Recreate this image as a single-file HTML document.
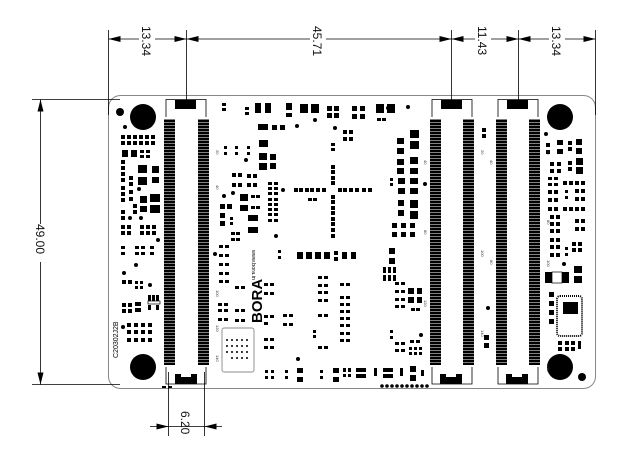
<!DOCTYPE html>
<html><head><meta charset="utf-8"><style>
html,body{margin:0;padding:0;background:#fff;}
svg{display:block;}
text{font-family:"Liberation Sans",sans-serif;}
</style></head><body>
<svg width="640" height="470" viewBox="0 0 640 470" xmlns="http://www.w3.org/2000/svg">
<defs>
<pattern id="pins" width="11" height="3" patternUnits="userSpaceOnUse">
<rect width="11" height="2.5" fill="#000"/>
</pattern>
</defs>

<rect x="108.5" y="95.5" width="487" height="293" rx="12" fill="none" stroke="#888" stroke-width="1"/>

<g stroke="#000" stroke-width="0.8" fill="none">
<line x1="108.5" y1="30" x2="108.5" y2="115"/>
<line x1="186.5" y1="30" x2="186.5" y2="101"/>
<line x1="451.5" y1="30" x2="451.5" y2="101"/>
<line x1="518.5" y1="30" x2="518.5" y2="101"/>
<line x1="595.5" y1="30" x2="595.5" y2="115"/>
<line x1="108.5" y1="39" x2="595.5" y2="39"/>
<line x1="32" y1="99.5" x2="120" y2="99.5"/>
<line x1="32" y1="384.5" x2="120" y2="384.5"/>
<line x1="40.5" y1="99.5" x2="40.5" y2="384.5"/>
<line x1="168.5" y1="372" x2="168.5" y2="436"/>
<line x1="204.5" y1="372" x2="204.5" y2="436"/>
<line x1="150" y1="426.5" x2="222" y2="426.5"/>
</g>
<g fill="#000">
<path d="M108.5,39 l12,-3 v6z"/><path d="M186.5,39 l-12,-3 v6z"/>
<path d="M186.5,39 l12,-3 v6z"/><path d="M451.5,39 l-12,-3 v6z"/>
<path d="M451.5,39 l12,-3 v6z"/><path d="M518.5,39 l-12,-3 v6z"/>
<path d="M518.5,39 l12,-3 v6z"/><path d="M595.5,39 l-12,-3 v6z"/>
<path d="M40.5,99.5 l-3,12 h6z"/><path d="M40.5,384.5 l-3,-12 h6z"/>
<path d="M168.5,426.5 l-12,-3 v6z"/><path d="M204.5,426.5 l12,-3 v6z"/>
</g>
<g fill="#fff"><rect x="139" y="33" width="16" height="24"/><rect x="310" y="33" width="16" height="24"/><rect x="475" y="33" width="16" height="24"/><rect x="549" y="33" width="16" height="24"/><rect x="33" y="224" width="16" height="38"/></g>
<g font-size="12" fill="#111">
<text transform="translate(142,26) rotate(90)">13.34</text>
<text transform="translate(313,26) rotate(90)">45.71</text>
<text transform="translate(478,26) rotate(90)">11.43</text>
<text transform="translate(552,26) rotate(90)">13.34</text>
<text transform="translate(36,224) rotate(90)">49.00</text>
<text transform="translate(181,411) rotate(90)">6.20</text>
</g>

<g fill="url(#pins)">
<rect x="164" y="119" width="11" height="246"/><rect x="198" y="119" width="11" height="246"/>
<rect x="430" y="119" width="11" height="246"/><rect x="463" y="119" width="11" height="246"/>
<rect x="496" y="119" width="11" height="246"/><rect x="529" y="119" width="11" height="246"/>
</g>
<g fill="none" stroke="#000" stroke-width="0.8">
<path d="M166,117 V99.5 H206 V117"/><path d="M432,117 V99.5 H472 V117"/><path d="M498,117 V99.5 H538 V117"/>
<path d="M166,367 V384 H206 V367"/><path d="M432,367 V384 H472 V367"/><path d="M498,367 V384 H538 V367"/>
</g>
<g fill="#000">
<rect x="175" y="100" width="21" height="9"/><rect x="441" y="100" width="21" height="9"/><rect x="507" y="100" width="21" height="9"/>
<path d="M175,374 h6 v3 h10 v-3 h6 v10 h-22z"/><path d="M440,374 h6 v3 h10 v-3 h6 v10 h-22z"/><path d="M506,374 h6 v3 h10 v-3 h6 v10 h-22z"/>
</g>

<g fill="#000">
<circle cx="143" cy="117" r="13"/><circle cx="143" cy="367" r="13"/>
<circle cx="560" cy="117" r="13"/><circle cx="560" cy="367" r="13"/>
<circle cx="120" cy="112" r="4"/><circle cx="582" cy="377" r="4"/>
</g>

<g fill="#000">
<rect x="121" y="135" width="4" height="4"/><rect x="127" y="135" width="4" height="4"/><rect x="133" y="135" width="4" height="4"/><rect x="139" y="135" width="4" height="4"/><rect x="145" y="135" width="4" height="4"/><rect x="151" y="135" width="4" height="4"/>
<rect x="121" y="141" width="4" height="4"/><rect x="127" y="141" width="4" height="4"/><rect x="133" y="141" width="4" height="4"/><rect x="139" y="141" width="4" height="4"/><rect x="145" y="141" width="4" height="4"/><rect x="151" y="141" width="4" height="4"/>
<rect x="122" y="150" width="6" height="7"/><rect x="131" y="150" width="6" height="7"/><rect x="140" y="150" width="4" height="3"/><rect x="146" y="150" width="4" height="3"/><rect x="140" y="155" width="4" height="3"/><rect x="146" y="155" width="4" height="3"/>
<rect x="121" y="160" width="4" height="4"/><rect x="121" y="166" width="4" height="4"/><rect x="121" y="172" width="4" height="4"/><rect x="121" y="178" width="4" height="4"/><rect x="121" y="186" width="4" height="4"/><rect x="121" y="192" width="4" height="4"/><rect x="121" y="198" width="4" height="4"/>
<rect x="129" y="176" width="4" height="4"/><rect x="129" y="182" width="4" height="4"/><rect x="129" y="190" width="4" height="4"/><rect x="129" y="197" width="4" height="4"/>
<rect x="138" y="165" width="9" height="8"/><rect x="138" y="177" width="9" height="8"/><rect x="152" y="166" width="7" height="7"/><rect x="152" y="177" width="7" height="6"/>
<rect x="140" y="196" width="7" height="7"/><rect x="150" y="194" width="10" height="8"/><rect x="140" y="206" width="7" height="6"/><rect x="150" y="205" width="10" height="8"/>
<rect x="133" y="204" width="4" height="4"/><rect x="133" y="210" width="4" height="4"/><rect x="121" y="210" width="4" height="4"/><rect x="121" y="216" width="4" height="4"/>
<rect x="121" y="225" width="4" height="4"/><rect x="127" y="225" width="4" height="4"/><rect x="121" y="231" width="4" height="4"/><rect x="127" y="231" width="4" height="4"/>
<rect x="140" y="225" width="4" height="4"/><rect x="146" y="225" width="4" height="4"/><rect x="152" y="225" width="4" height="4"/><rect x="140" y="231" width="4" height="4"/><rect x="146" y="231" width="4" height="4"/><rect x="152" y="231" width="4" height="4"/>
<rect x="121" y="246" width="4" height="3"/><rect x="121" y="252" width="4" height="3"/><rect x="135" y="246" width="4" height="3"/><rect x="141" y="246" width="4" height="3"/><rect x="135" y="252" width="4" height="3"/><rect x="141" y="252" width="4" height="3"/><rect x="150" y="246" width="4" height="3"/><rect x="150" y="252" width="4" height="3"/>
<rect x="122" y="280" width="4" height="4"/><rect x="128" y="280" width="4" height="4"/><rect x="135" y="281" width="3" height="3"/><rect x="140" y="281" width="3" height="3"/><rect x="135" y="286" width="3" height="3"/><rect x="140" y="286" width="3" height="3"/>
<rect x="148" y="295" width="3" height="6"/><rect x="152" y="295" width="3" height="6"/><rect x="156" y="295" width="3" height="6"/>
<rect x="122" y="303" width="4" height="4"/><rect x="128" y="303" width="4" height="4"/><rect x="122" y="309" width="4" height="4"/><rect x="128" y="309" width="4" height="4"/><rect x="135" y="302" width="6" height="4"/><rect x="135" y="308" width="6" height="4"/><rect x="148" y="305" width="3" height="5"/><rect x="156" y="305" width="3" height="5"/>
<rect x="127" y="323" width="4" height="4"/><rect x="134" y="323" width="4" height="4"/><rect x="141" y="323" width="4" height="4"/><rect x="148" y="323" width="4" height="4"/><rect x="127" y="330" width="4" height="4"/><rect x="134" y="330" width="4" height="4"/><rect x="141" y="330" width="4" height="4"/><rect x="148" y="330" width="4" height="4"/>
<rect x="127" y="338" width="4" height="4"/><rect x="134" y="338" width="4" height="4"/><rect x="141" y="338" width="4" height="4"/><rect x="148" y="338" width="4" height="4"/>
<circle cx="125" cy="127" r="2"/><circle cx="139" cy="189" r="2"/><circle cx="130" cy="218" r="2"/><circle cx="141" cy="218" r="2"/><circle cx="158" cy="240" r="2"/><circle cx="136" cy="265" r="2"/><circle cx="124" cy="273" r="2"/><circle cx="150" cy="285" r="2"/><circle cx="123" cy="327" r="2"/>
<rect x="222" y="103" width="4" height="3"/><rect x="222" y="108" width="4" height="3"/><rect x="245" y="107" width="4" height="3"/><rect x="245" y="112" width="4" height="3"/>
<rect x="255" y="103" width="6" height="10"/><rect x="265" y="103" width="6" height="10"/><rect x="286" y="103" width="6" height="7"/><rect x="286" y="113" width="6" height="4"/><rect x="300" y="104" width="8" height="9"/><rect x="311" y="104" width="8" height="9"/>
<rect x="327" y="106" width="5" height="5"/><rect x="334" y="106" width="5" height="5"/><rect x="327" y="113" width="5" height="5"/><rect x="334" y="113" width="5" height="5"/>
<rect x="352" y="106" width="5" height="5"/><rect x="360" y="106" width="5" height="5"/><rect x="352" y="114" width="5" height="5"/><rect x="360" y="114" width="5" height="5"/>
<rect x="376" y="104" width="8" height="9"/><rect x="387" y="104" width="8" height="9"/><rect x="377" y="118" width="4" height="3"/><rect x="382" y="118" width="4" height="3"/>
<rect x="258" y="124" width="10" height="6"/><rect x="272" y="125" width="5" height="5"/><rect x="280" y="125" width="5" height="5"/>
<rect x="259" y="140" width="9" height="7"/><rect x="259" y="153" width="8" height="7"/><rect x="270" y="154" width="6" height="6"/><rect x="259" y="163" width="8" height="7"/><rect x="270" y="163" width="6" height="6"/>
<rect x="224" y="146" width="3" height="3"/><rect x="224" y="152" width="3" height="3"/><rect x="235" y="146" width="3" height="3"/><rect x="235" y="152" width="3" height="3"/><rect x="247" y="146" width="3" height="3"/><rect x="247" y="152" width="3" height="3"/>
<rect x="232" y="173" width="4" height="4"/><rect x="238" y="173" width="4" height="4"/><rect x="247" y="174" width="4" height="4"/><rect x="253" y="174" width="4" height="4"/><rect x="232" y="183" width="4" height="4"/><rect x="238" y="183" width="4" height="4"/><rect x="247" y="183" width="4" height="4"/><rect x="253" y="183" width="4" height="4"/>
<rect x="240" y="194" width="8" height="7"/><rect x="251" y="195" width="4" height="3"/><rect x="256" y="195" width="4" height="3"/><rect x="240" y="205" width="8" height="6"/><rect x="251" y="206" width="4" height="3"/><rect x="256" y="206" width="4" height="3"/>
<rect x="220" y="204" width="5" height="5"/><rect x="227" y="204" width="5" height="5"/><rect x="220" y="213" width="5" height="5"/><rect x="220" y="221" width="5" height="5"/><rect x="230" y="217" width="3" height="3"/><rect x="230" y="222" width="3" height="3"/>
<rect x="248" y="215" width="10" height="6"/><rect x="248" y="227" width="10" height="6"/>
<rect x="231" y="232" width="4" height="3"/><rect x="236" y="232" width="4" height="3"/><rect x="231" y="238" width="4" height="3"/><rect x="236" y="238" width="4" height="3"/>
<rect x="219" y="245" width="4" height="3"/><rect x="225" y="245" width="4" height="3"/><rect x="219" y="254" width="4" height="3"/><rect x="225" y="254" width="4" height="3"/><rect x="219" y="263" width="4" height="3"/><rect x="225" y="263" width="4" height="3"/><rect x="219" y="272" width="4" height="3"/><rect x="225" y="272" width="4" height="3"/><rect x="219" y="280" width="4" height="3"/><rect x="225" y="280" width="4" height="3"/>
<rect x="235" y="286" width="4" height="3"/><rect x="241" y="286" width="4" height="3"/><rect x="218" y="303" width="4" height="3"/><rect x="224" y="303" width="4" height="3"/><rect x="218" y="309" width="4" height="3"/><rect x="224" y="309" width="4" height="3"/><rect x="235" y="309" width="4" height="3"/><rect x="241" y="309" width="4" height="3"/><rect x="218" y="318" width="4" height="3"/><rect x="224" y="318" width="4" height="3"/><rect x="235" y="319" width="4" height="3"/><rect x="241" y="319" width="4" height="3"/>
<rect x="268" y="182" width="4" height="3"/><rect x="274" y="182" width="4" height="3"/><rect x="268" y="187" width="4" height="3"/><rect x="274" y="187" width="4" height="3"/><rect x="268" y="192" width="4" height="3"/><rect x="274" y="192" width="4" height="3"/><rect x="268" y="198" width="4" height="3"/><rect x="274" y="198" width="4" height="3"/><rect x="268" y="203" width="4" height="3"/><rect x="274" y="203" width="4" height="3"/><rect x="268" y="208" width="4" height="3"/><rect x="274" y="208" width="4" height="3"/><rect x="268" y="213" width="4" height="3"/><rect x="274" y="213" width="4" height="3"/><rect x="268" y="219" width="4" height="3"/><rect x="274" y="219" width="4" height="3"/>
<rect x="278" y="250" width="3" height="3"/><rect x="278" y="256" width="3" height="3"/>
<rect x="294" y="188" width="4" height="4"/><rect x="299" y="188" width="4" height="4"/><rect x="305" y="188" width="4" height="4"/><rect x="310" y="188" width="4" height="4"/><rect x="316" y="188" width="4" height="4"/><rect x="322" y="188" width="4" height="4"/>
<rect x="338" y="188" width="4" height="4"/><rect x="343" y="188" width="4" height="4"/><rect x="349" y="188" width="4" height="4"/><rect x="355" y="188" width="4" height="4"/><rect x="362" y="188" width="4" height="4"/><rect x="368" y="188" width="4" height="4"/>
<rect x="331" y="143" width="4" height="3"/><rect x="331" y="148" width="4" height="3"/><rect x="331" y="165" width="4" height="4"/><rect x="331" y="170" width="4" height="4"/><rect x="331" y="176" width="4" height="4"/><rect x="331" y="181" width="4" height="4"/>
<rect x="331" y="195" width="4" height="4"/><rect x="331" y="200" width="4" height="4"/><rect x="331" y="206" width="4" height="4"/><rect x="331" y="211" width="4" height="4"/><rect x="331" y="217" width="4" height="4"/><rect x="331" y="222" width="4" height="4"/><rect x="331" y="228" width="4" height="4"/><rect x="331" y="234" width="4" height="4"/>
<rect x="308" y="198" width="4" height="3"/><rect x="313" y="198" width="4" height="3"/>
<rect x="343" y="130" width="4" height="4"/><rect x="349" y="130" width="4" height="4"/><rect x="343" y="137" width="4" height="4"/><rect x="349" y="137" width="4" height="4"/>
<rect x="297" y="252" width="6" height="7"/><rect x="306" y="252" width="6" height="7"/><rect x="315" y="252" width="6" height="7"/><rect x="324" y="252" width="6" height="7"/><rect x="334" y="251" width="4" height="4"/><rect x="334" y="257" width="4" height="4"/><rect x="342" y="252" width="5" height="7"/><rect x="351" y="252" width="5" height="7"/>
<rect x="318" y="276" width="4" height="3"/><rect x="324" y="276" width="4" height="3"/><rect x="318" y="284" width="4" height="3"/><rect x="324" y="284" width="4" height="3"/><rect x="318" y="291" width="4" height="3"/><rect x="324" y="291" width="4" height="3"/><rect x="318" y="299" width="4" height="3"/><rect x="324" y="299" width="4" height="3"/><rect x="318" y="314" width="4" height="3"/><rect x="324" y="314" width="4" height="3"/><rect x="318" y="346" width="4" height="3"/><rect x="324" y="346" width="4" height="3"/>
<rect x="340" y="283" width="4" height="3"/><rect x="346" y="283" width="4" height="3"/><rect x="340" y="296" width="4" height="3"/><rect x="346" y="296" width="4" height="3"/><rect x="340" y="303" width="4" height="3"/><rect x="346" y="303" width="4" height="3"/><rect x="340" y="310" width="4" height="3"/><rect x="346" y="310" width="4" height="3"/><rect x="340" y="317" width="4" height="3"/><rect x="346" y="317" width="4" height="3"/><rect x="340" y="324" width="4" height="3"/><rect x="346" y="324" width="4" height="3"/><rect x="340" y="332" width="4" height="3"/><rect x="346" y="332" width="4" height="3"/><rect x="340" y="339" width="4" height="3"/><rect x="346" y="339" width="4" height="3"/>
<rect x="313" y="330" width="3" height="3"/><rect x="313" y="335" width="3" height="3"/>
<rect x="264" y="283" width="4" height="3"/><rect x="270" y="283" width="4" height="3"/><rect x="264" y="292" width="4" height="3"/><rect x="270" y="292" width="4" height="3"/><rect x="264" y="315" width="4" height="3"/><rect x="270" y="315" width="4" height="3"/><rect x="264" y="322" width="4" height="3"/><rect x="264" y="338" width="4" height="3"/><rect x="270" y="338" width="4" height="3"/><rect x="264" y="346" width="4" height="3"/><rect x="270" y="346" width="4" height="3"/>
<rect x="283" y="314" width="4" height="3"/><rect x="289" y="314" width="4" height="3"/><rect x="283" y="323" width="4" height="3"/><rect x="289" y="323" width="4" height="3"/>
<rect x="265" y="370" width="3" height="3"/><rect x="271" y="370" width="3" height="3"/><rect x="265" y="376" width="3" height="3"/><rect x="271" y="376" width="3" height="3"/><rect x="285" y="370" width="3" height="3"/><rect x="285" y="376" width="3" height="3"/>
<rect x="297" y="368" width="6" height="5"/><rect x="297" y="377" width="6" height="5"/><rect x="320" y="370" width="3" height="3"/><rect x="320" y="376" width="3" height="3"/>
<rect x="333" y="368" width="6" height="5"/><rect x="333" y="377" width="6" height="5"/><rect x="343" y="368" width="3" height="4"/><rect x="348" y="368" width="3" height="4"/><rect x="343" y="374" width="3" height="3"/><rect x="348" y="374" width="3" height="3"/>
<rect x="356" y="368" width="10" height="4"/><rect x="356" y="374" width="10" height="4"/><rect x="374" y="368" width="3" height="8"/><rect x="383" y="368" width="10" height="4"/><rect x="383" y="374" width="10" height="4"/><rect x="400" y="368" width="3" height="8"/><rect x="410" y="366" width="6" height="6"/><rect x="410" y="375" width="6" height="6"/><rect x="421" y="370" width="3" height="6"/>
<circle cx="382" cy="386" r="1.8"/><circle cx="387" cy="386" r="1.8"/><circle cx="392" cy="386" r="1.8"/><circle cx="397" cy="386" r="1.8"/><circle cx="402" cy="386" r="1.8"/><circle cx="407" cy="386" r="1.8"/><circle cx="412" cy="386" r="1.8"/><circle cx="417" cy="386" r="1.8"/><circle cx="422" cy="386" r="1.8"/><circle cx="427" cy="386" r="1.8"/>
<rect x="162" y="386" width="4" height="2"/><rect x="168" y="386" width="4" height="2"/>
<rect x="410" y="130" width="9" height="8"/><rect x="397" y="138" width="7" height="6"/><rect x="410" y="141" width="9" height="8"/><rect x="397" y="148" width="7" height="6"/>
<rect x="397" y="159" width="7" height="6"/><rect x="410" y="157" width="8" height="7"/><rect x="397" y="168" width="7" height="6"/><rect x="410" y="168" width="8" height="6"/>
<rect x="390" y="178" width="3" height="3"/><rect x="390" y="183" width="3" height="3"/><rect x="398" y="178" width="7" height="6"/><rect x="410" y="178" width="8" height="6"/><rect x="398" y="188" width="7" height="6"/><rect x="410" y="188" width="8" height="6"/>
<rect x="398" y="200" width="6" height="6"/><rect x="410" y="200" width="8" height="8"/><rect x="398" y="210" width="6" height="6"/><rect x="410" y="211" width="8" height="8"/>
<rect x="392" y="223" width="5" height="5"/><rect x="401" y="223" width="5" height="5"/><rect x="410" y="223" width="5" height="5"/><rect x="392" y="232" width="5" height="5"/><rect x="401" y="232" width="5" height="5"/><rect x="410" y="232" width="5" height="5"/>
<rect x="389" y="248" width="6" height="6"/><rect x="389" y="258" width="6" height="6"/><rect x="383" y="267" width="3" height="6"/><rect x="388" y="267" width="3" height="6"/><rect x="393" y="267" width="3" height="6"/><rect x="383" y="275" width="3" height="6"/><rect x="388" y="275" width="3" height="6"/><rect x="393" y="275" width="3" height="6"/>
<rect x="395" y="282" width="4" height="3"/><rect x="401" y="282" width="4" height="3"/><rect x="395" y="290" width="4" height="3"/><rect x="401" y="290" width="4" height="3"/><rect x="395" y="298" width="4" height="3"/><rect x="401" y="298" width="4" height="3"/><rect x="395" y="305" width="4" height="3"/><rect x="401" y="305" width="4" height="3"/>
<rect x="408" y="288" width="6" height="6"/><rect x="417" y="288" width="5" height="6"/><rect x="408" y="297" width="6" height="6"/><rect x="417" y="297" width="5" height="6"/><rect x="411" y="308" width="4" height="3"/><rect x="416" y="308" width="4" height="3"/>
<rect x="390" y="330" width="3" height="3"/><rect x="390" y="336" width="3" height="3"/><rect x="395" y="342" width="4" height="3"/><rect x="401" y="342" width="4" height="3"/><rect x="395" y="349" width="4" height="3"/><rect x="401" y="349" width="4" height="3"/>
<rect x="410" y="340" width="4" height="3"/><rect x="416" y="340" width="4" height="3"/><rect x="409" y="347" width="3" height="3"/><rect x="414" y="347" width="3" height="3"/><rect x="419" y="347" width="3" height="3"/><rect x="409" y="352" width="3" height="3"/><rect x="414" y="352" width="3" height="3"/><rect x="419" y="352" width="3" height="3"/>
<rect x="484" y="335" width="5" height="5"/><rect x="484" y="343" width="5" height="5"/><rect x="482" y="128" width="4" height="4"/><rect x="482" y="134" width="4" height="4"/>
<circle cx="388" cy="108" r="2"/><circle cx="315" cy="120" r="2"/><circle cx="335" cy="128" r="2"/><circle cx="297" cy="126" r="2"/><circle cx="246" cy="160" r="2"/><circle cx="224" cy="196" r="2"/><circle cx="233" cy="193" r="2"/><circle cx="283" cy="190" r="2"/><circle cx="276" cy="236" r="2"/><circle cx="298" cy="359" r="2"/><circle cx="425" cy="184" r="2"/><circle cx="215" cy="254" r="2"/><circle cx="408" cy="107" r="2"/><circle cx="488" cy="308" r="2"/><circle cx="421" cy="335" r="2"/>
<rect x="546" y="143" width="4" height="4"/><rect x="546" y="150" width="4" height="4"/><rect x="557" y="140" width="6" height="5"/><rect x="557" y="149" width="6" height="5"/><rect x="568" y="141" width="4" height="4"/><rect x="568" y="147" width="4" height="4"/><rect x="576" y="139" width="6" height="6"/><rect x="576" y="148" width="6" height="6"/>
<rect x="550" y="162" width="4" height="4"/><rect x="557" y="162" width="4" height="4"/><rect x="550" y="169" width="4" height="4"/><rect x="557" y="169" width="4" height="4"/><rect x="568" y="161" width="4" height="4"/><rect x="568" y="167" width="4" height="4"/><rect x="576" y="158" width="7" height="7"/><rect x="576" y="167" width="7" height="7"/>
<rect x="548" y="177" width="4" height="3"/><rect x="554" y="177" width="4" height="3"/><rect x="548" y="183" width="4" height="3"/><rect x="554" y="183" width="4" height="3"/><rect x="563" y="181" width="4" height="4"/><rect x="569" y="181" width="4" height="4"/><rect x="575" y="181" width="4" height="4"/><rect x="581" y="181" width="4" height="4"/>
<rect x="548" y="190" width="4" height="4"/><rect x="554" y="190" width="4" height="4"/><rect x="548" y="198" width="4" height="4"/><rect x="554" y="198" width="4" height="4"/><rect x="565" y="190" width="3" height="3"/><rect x="565" y="196" width="3" height="3"/><rect x="575" y="189" width="4" height="4"/><rect x="581" y="189" width="4" height="4"/><rect x="575" y="197" width="4" height="4"/><rect x="581" y="197" width="4" height="4"/>
<rect x="548" y="207" width="4" height="4"/><rect x="554" y="207" width="4" height="4"/><rect x="563" y="207" width="4" height="4"/><rect x="569" y="207" width="4" height="4"/><rect x="575" y="207" width="4" height="4"/><rect x="581" y="207" width="4" height="4"/>
<rect x="550" y="215" width="4" height="4"/><rect x="556" y="215" width="4" height="4"/><rect x="550" y="222" width="4" height="4"/><rect x="556" y="222" width="4" height="4"/><rect x="550" y="229" width="4" height="4"/><rect x="556" y="229" width="4" height="4"/><rect x="575" y="219" width="4" height="4"/><rect x="581" y="219" width="4" height="4"/><rect x="575" y="227" width="4" height="4"/><rect x="581" y="227" width="4" height="4"/>
<rect x="550" y="238" width="4" height="4"/><rect x="556" y="238" width="4" height="4"/><rect x="550" y="245" width="4" height="4"/><rect x="556" y="245" width="4" height="4"/><rect x="550" y="253" width="4" height="4"/><rect x="556" y="253" width="4" height="4"/><rect x="565" y="247" width="3" height="3"/><rect x="565" y="253" width="3" height="3"/><rect x="572" y="242" width="4" height="4"/><rect x="578" y="242" width="4" height="4"/><rect x="572" y="248" width="4" height="4"/><rect x="578" y="248" width="4" height="4"/>
<rect x="545" y="272" width="7" height="11"/><rect x="562" y="272" width="7" height="11"/><rect x="574" y="266" width="8" height="7"/><rect x="574" y="276" width="8" height="7"/>
<rect x="549" y="292" width="5" height="5"/><rect x="549" y="301" width="5" height="5"/><rect x="549" y="310" width="5" height="5"/><rect x="549" y="319" width="5" height="5"/>
<rect x="563" y="302" width="15" height="12"/>
<rect x="558" y="341" width="4" height="4"/><rect x="565" y="341" width="4" height="4"/><rect x="571" y="341" width="4" height="4"/><rect x="578" y="341" width="3" height="8"/><rect x="558" y="347" width="4" height="4"/><rect x="565" y="347" width="4" height="4"/><rect x="571" y="347" width="4" height="4"/>
<circle cx="546" cy="134" r="2"/><circle cx="564" cy="264" r="2"/>
</g>
<g fill="none" stroke="#000" stroke-width="0.7">
<rect x="552" y="272" width="10" height="11"/>
<rect x="557" y="296" width="25" height="40" rx="3" stroke-dasharray="1,1" stroke-width="2"/>
<rect x="222" y="328" width="32" height="44" rx="2" stroke="#666"/>
<rect x="148" y="301" width="12" height="3"/>
</g>
<g fill="#000">
<circle cx="227" cy="340" r="1"/><circle cx="232" cy="340" r="1"/><circle cx="237" cy="340" r="1"/><circle cx="242" cy="340" r="1"/><circle cx="247" cy="340" r="1"/>
<circle cx="227" cy="346" r="1"/><circle cx="232" cy="346" r="1"/><circle cx="237" cy="346" r="1"/><circle cx="242" cy="346" r="1"/><circle cx="247" cy="346" r="1"/>
<circle cx="227" cy="352" r="1"/><circle cx="232" cy="352" r="1"/><circle cx="237" cy="352" r="1"/><circle cx="242" cy="352" r="1"/><circle cx="247" cy="352" r="1"/>
<circle cx="232" cy="358" r="1"/><circle cx="237" cy="358" r="1"/><circle cx="242" cy="358" r="1"/><circle cx="247" cy="358" r="1"/>
</g>
<g fill="#000">
<text transform="translate(252,250) rotate(90)" font-size="5.5">www.bora.in</text>
<text transform="translate(262,323) rotate(-90)" font-size="15" font-weight="bold">BORA</text>
<text transform="translate(118,358) rotate(-90)" font-size="7">C20302J2B</text>
</g>
<g fill="#333" font-size="4">
<text transform="translate(216,150) rotate(90)">20</text><text transform="translate(216,185) rotate(90)">40</text><text transform="translate(216,290) rotate(90)">100</text><text transform="translate(216,325) rotate(90)">120</text><text transform="translate(216,355) rotate(90)">140</text>
<text transform="translate(424,160) rotate(90)">40</text><text transform="translate(424,230) rotate(90)">80</text><text transform="translate(424,300) rotate(90)">120</text>
<text transform="translate(481,150) rotate(90)">20</text><text transform="translate(481,250) rotate(90)">100</text><text transform="translate(481,330) rotate(90)">140</text>
<text transform="translate(490,160) rotate(90)">40</text><text transform="translate(490,260) rotate(90)">80</text>
<text transform="translate(547,150) rotate(90)">20</text><text transform="translate(547,220) rotate(90)">80</text><text transform="translate(547,260) rotate(90)">100</text><text transform="translate(547,365) rotate(90)">140</text>
</g>
</svg>
</body></html>
